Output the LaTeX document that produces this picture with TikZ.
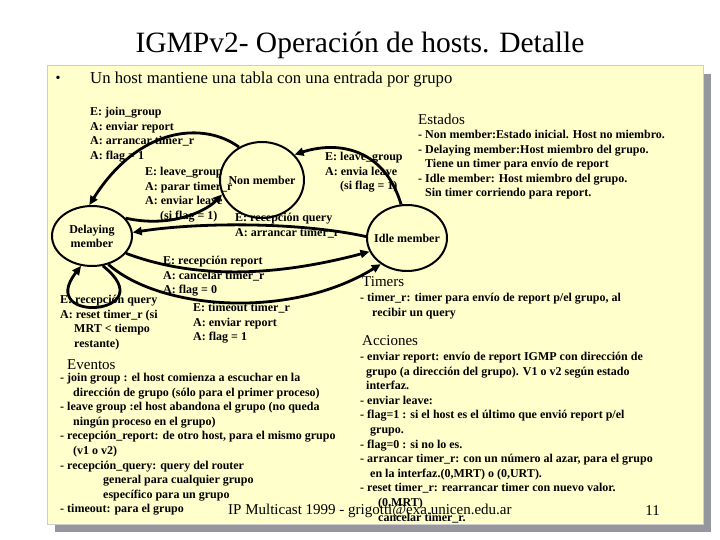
\documentclass[tikz,border=0pt]{standalone}
\usepackage{fontspec}
\setmainfont{Liberation Serif}
\usepackage{xcolor,tikz}
\usetikzlibrary{arrows.meta,shapes.geometric}
\definecolor{slideyellow}{RGB}{255,255,204}
\definecolor{shadowgray}{RGB}{150,150,158}
\definecolor{edgegray}{RGB}{205,205,205}

\begin{document}
\begin{tikzpicture}[x=1pt,y=-1pt,
  state/.style={draw,ellipse,line width=2pt,inner xsep=-6pt,inner ysep=0pt,align=center,font=\fontsize{12}{14}\selectfont\bfseries},
  lbl/.style={anchor=north west,inner sep=0pt,align=left,font=\fontsize{12}{14.6}\selectfont\bfseries},
  head/.style={anchor=north west,inner sep=0pt,font=\fontsize{15}{17}\selectfont},
  arr/.style={-{Triangle[length=9pt,width=8pt]},line width=2.8pt}]
\useasboundingbox (0,0) rectangle (720,540);
\fill[white] (0,0) rectangle (720,540);
% slide panel with its shadow
\fill[shadowgray] (55,74) rectangle (711,532);
\filldraw[fill=slideyellow,draw=edgegray,line width=1pt] (47,66) rectangle (703,524);
\node[font=\fontsize{29.5}{32}\selectfont] (title) at (360,45) {IGMPv2- Operación de hosts. Detalle};
\node[font=\fontsize{14}{16}\selectfont] (bullet) at (58,79) {•};
\node[anchor=west,inner sep=0pt,font=\fontsize{16.7}{18}\selectfont] (intro) at (90,80) {Un host mantiene una tabla con una entrada por grupo};

% states
\node[state,minimum width=84pt,minimum height=76pt] (nonm) at (262,180) {Non member};
\node[state,minimum width=80pt,minimum height=60pt] (delay) at (92,236) {Delaying\\member};
\node[state,minimum width=80pt,minimum height=66pt] (idle) at (407,238) {Idle member};

% transitions
\draw[arr] (nonm.125) .. controls (205,122) and (140,125) .. (delay.95);
\draw[arr] (delay.28) .. controls (170,228) and (205,212) .. (nonm.200);
\draw[arr] (idle.100) .. controls (385,150) and (340,140) .. (nonm.38);
\draw[arr] (idle.178) .. controls (300,222) and (200,222) .. (delay.5);
\draw[arr] (delay.333) .. controls (210,285) and (300,270) .. (idle.200);
\draw[arr] (delay.300) .. controls (160,310) and (290,320) .. (idle.225);
\draw[arr] (delay.290) .. controls (165,315) and (35,325) .. (delay.250);

\node[lbl] (joinlbl) at (90,107) {E: join\_group\\A: enviar report\\A: arrancar timer\_r\\A: flag = 1};
\node[lbl] (leavelbl) at (145,167) {E: leave\_group\\A: parar timer\_r\\A: enviar leave\\\hspace*{15pt}(si flag = 1)};
\node[lbl] (leave2lbl) at (325,152) {E: leave\_group\\A: envia leave\\\hspace*{15pt}(si flag = 1)};
\node[lbl] (querylbl) at (235,213) {E: recepción query\\A: arrancar timer\_r};
\node[lbl] (reportlbl) at (163,256) {E: recepción report\\A: cancelar timer\_r\\A: flag = 0};
\node[lbl] (looplbl) at (60,295) {E: recepción query\\A: reset timer\_r (si\\\hspace*{14pt}MRT < tiempo\\\hspace*{14pt}restante)};
\node[lbl] (timeoutlbl) at (193,303) {E: timeout timer\_r\\A: enviar report\\A: flag = 1};

% notes
\node[head] (estados) at (418,114) {Estados};
\node[lbl] (estadoslist) at (418,130) {- Non member:Estado inicial. Host no miembro.\\- Delaying member:Host miembro del grupo.\\\hspace*{7pt}Tiene un timer para envío de report\\- Idle member: Host miembro del grupo.\\\hspace*{7pt}Sin timer corriendo para report.};
\node[head] (timers) at (362,276) {Timers};
\node[lbl] (timerslist) at (360,293) {- timer\_r: timer para envío de report p/el grupo, al\\\hspace*{12pt}recibir un query};
\node[head] (acciones) at (362,335) {Acciones};
\node[lbl] (accioneslist) at (360,352) {- enviar report: envío de report IGMP con dirección de\\\hspace*{6pt}grupo (a dirección del grupo). V1 o v2 según estado\\\hspace*{6pt}interfaz.\\- enviar leave:\\- flag=1 : si el host es el último que envió  report  p/el\\\hspace*{10pt}grupo.\\- flag=0 : si no lo es.\\- arrancar timer\_r: con un número al azar, para el grupo\\\hspace*{10pt}en la interfaz.(0,MRT) o (0,URT).\\- reset timer\_r: rearrancar timer con nuevo valor.\\\hspace*{18pt}(0,MRT)\\\hspace*{18pt}cancelar timer\_r.};
\node[head] (eventos) at (67,359) {Eventos};
\node[lbl] (eventoslist) at (60,373) {- join group : el  host comienza a escuchar en la\\\hspace*{13pt}dirección de grupo (sólo para el primer proceso)\\- leave group :el  host abandona el grupo (no queda\\\hspace*{13pt}ningún proceso en el grupo)\\- recepción\_report: de otro host, para el mismo grupo\\\hspace*{13pt}(v1 o v2)\\- recepción\_query: query del router\\\hspace*{43pt}general para cualquier grupo\\\hspace*{43pt}específico para un grupo\\- timeout: para el grupo};

% footer
\node[anchor=west,inner sep=0pt,font=\fontsize{15}{17}\selectfont] (footer) at (228,511) {IP Multicast 1999 - grigotti@exa.unicen.edu.ar};
\node[anchor=east,inner sep=0pt,font=\fontsize{15}{17}\selectfont] (pageno) at (660,511) {11};
\end{tikzpicture}
\end{document}
